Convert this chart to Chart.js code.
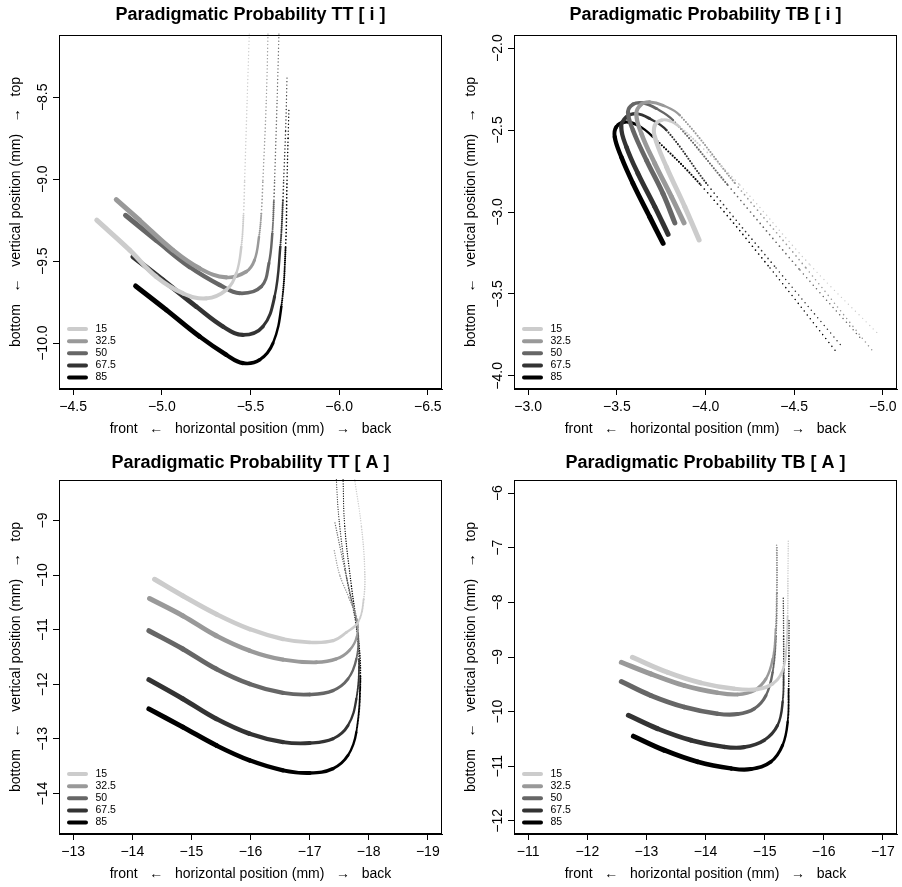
<!DOCTYPE html>
<html>
<head>
<meta charset="utf-8">
<script src="https://cdn.jsdelivr.net/npm/chart.js@4.4.1/dist/chart.umd.min.js"></script>
<style>
  html, body { margin: 0; padding: 0; background: #fff; overflow: hidden; }
  body { width: 902px; height: 887px; position: relative; }
  canvas { position: absolute; }
</style>
</head>
<body>
<canvas id="painel1" width="451" height="443" style="left:0;top:0"></canvas>
<canvas id="painel2" width="451" height="443" style="left:455px;top:0"></canvas>
<canvas id="painel3" width="451" height="443" style="left:0;top:445px"></canvas>
<canvas id="painel4" width="451" height="443" style="left:455px;top:445px"></canvas>
<script>
const categorias = ['15', '32.5', '50', '67.5', '85'];
const cores = ['#cccccc', '#999999', '#666666', '#333333', '#000000'];

// trajetorias [x, y] em mm, uma por categoria, do inicio (grosso) ao fim (pontilhado)
const trajTTi = [
  [[-4.633,-9.250],[-4.818,-9.432],[-4.968,-9.595],[-5.119,-9.696],[-5.251,-9.727],[-5.363,-9.676],[-5.420,-9.574],[-5.448,-9.412],[-5.461,-9.209],[-5.467,-9.007],[-5.481,-8.520],[-5.495,-8.050]],
  [[-4.743,-9.124],[-4.874,-9.250],[-5.062,-9.432],[-5.213,-9.544],[-5.363,-9.599],[-5.476,-9.564],[-5.523,-9.493],[-5.548,-9.351],[-5.561,-9.209],[-5.570,-9.007],[-5.589,-8.520],[-5.600,-8.050]],
  [[-4.795,-9.220],[-4.968,-9.372],[-5.156,-9.534],[-5.326,-9.645],[-5.440,-9.696],[-5.561,-9.655],[-5.604,-9.513],[-5.623,-9.331],[-5.632,-9.128],[-5.636,-9.007],[-5.650,-8.520],[-5.662,-8.050]],
  [[-4.837,-9.473],[-5.006,-9.615],[-5.194,-9.777],[-5.345,-9.899],[-5.457,-9.950],[-5.570,-9.899],[-5.636,-9.716],[-5.668,-9.412],[-5.683,-9.128],[-5.687,-9.007],[-5.698,-8.703],[-5.706,-8.378]],
  [[-4.852,-9.651],[-5.025,-9.797],[-5.213,-9.960],[-5.363,-10.071],[-5.457,-10.122],[-5.552,-10.102],[-5.627,-10.000],[-5.674,-9.777],[-5.698,-9.412],[-5.706,-9.007],[-5.712,-8.750],[-5.717,-8.561]]
];
const trajTBi = [
  [[-3.964,-3.171],[-3.883,-2.968],[-3.780,-2.725],[-3.714,-2.542],[-3.714,-2.471],[-3.751,-2.440],[-3.798,-2.444],[-3.855,-2.481],[-3.968,-2.593],[-4.194,-2.836],[-4.590,-3.323],[-4.985,-3.756]],
  [[-3.879,-3.066],[-3.808,-2.907],[-3.714,-2.704],[-3.638,-2.521],[-3.610,-2.400],[-3.638,-2.343],[-3.685,-2.329],[-3.760,-2.349],[-3.855,-2.410],[-4.166,-2.824],[-4.567,-3.342],[-4.946,-3.853]],
  [[-3.827,-3.066],[-3.760,-2.887],[-3.667,-2.684],[-3.591,-2.501],[-3.563,-2.390],[-3.591,-2.343],[-3.647,-2.335],[-3.723,-2.369],[-3.817,-2.440],[-4.126,-2.836],[-4.533,-3.354],[-4.884,-3.781]],
  [[-3.789,-3.136],[-3.714,-2.968],[-3.619,-2.765],[-3.554,-2.603],[-3.525,-2.481],[-3.554,-2.420],[-3.610,-2.400],[-3.685,-2.430],[-3.780,-2.501],[-4.013,-2.836],[-4.398,-3.342],[-4.776,-3.829]],
  [[-3.761,-3.191],[-3.685,-3.029],[-3.591,-2.826],[-3.525,-2.664],[-3.488,-2.542],[-3.497,-2.481],[-3.544,-2.451],[-3.619,-2.471],[-3.704,-2.542],[-3.974,-2.836],[-4.364,-3.342],[-4.742,-3.860]]
];
const trajTTA = [
  [[-14.377,-10.077],[-14.857,-10.381],[-15.421,-10.715],[-15.985,-10.989],[-16.550,-11.172],[-17.001,-11.232],[-17.396,-11.202],[-17.622,-11.050],[-17.819,-10.867],[-17.915,-10.442],[-17.932,-9.894],[-17.876,-9.103],[-17.763,-8.252],[-17.735,-8.009]],
  [[-14.292,-10.429],[-14.857,-10.746],[-15.421,-11.111],[-15.985,-11.384],[-16.550,-11.549],[-17.114,-11.597],[-17.453,-11.536],[-17.680,-11.370],[-17.800,-11.120],[-17.800,-10.800],[-17.660,-10.400],[-17.510,-10.000],[-17.413,-9.535]],
  [[-14.281,-11.019],[-14.857,-11.354],[-15.421,-11.719],[-15.985,-11.993],[-16.550,-12.157],[-17.001,-12.187],[-17.396,-12.114],[-17.650,-11.901],[-17.791,-11.536],[-17.819,-11.050],[-17.746,-10.624],[-17.594,-9.894],[-17.424,-9.018]],
  [[-14.281,-11.914],[-14.857,-12.266],[-15.421,-12.631],[-15.985,-12.905],[-16.550,-13.057],[-17.001,-13.075],[-17.396,-12.996],[-17.650,-12.753],[-17.791,-12.266],[-17.836,-11.536],[-17.780,-10.867],[-17.622,-10.016],[-17.498,-8.982],[-17.453,-8.252],[-17.450,-8.000]],
  [[-14.281,-12.449],[-14.857,-12.783],[-15.421,-13.118],[-15.985,-13.392],[-16.550,-13.574],[-17.001,-13.623],[-17.396,-13.544],[-17.650,-13.300],[-17.791,-12.875],[-17.859,-11.841],[-17.819,-11.111],[-17.707,-10.198],[-17.594,-9.103],[-17.566,-8.252],[-17.560,-8.000]]
];
const trajTBA = [
  [[-12.763,-9.005],[-13.356,-9.279],[-13.921,-9.473],[-14.486,-9.582],[-14.881,-9.590],[-15.136,-9.491],[-15.294,-9.279],[-15.362,-8.914],[-15.390,-8.247],[-15.395,-7.518],[-15.401,-6.856]],
  [[-12.576,-9.097],[-13.073,-9.309],[-13.638,-9.522],[-14.203,-9.655],[-14.542,-9.686],[-14.825,-9.613],[-15.023,-9.400],[-15.136,-9.036],[-15.186,-8.489],[-15.203,-7.822],[-15.203,-6.917]],
  [[-12.576,-9.449],[-13.073,-9.704],[-13.638,-9.916],[-14.203,-10.038],[-14.542,-10.045],[-14.825,-9.947],[-15.023,-9.704],[-15.136,-9.279],[-15.192,-8.611],[-15.209,-7.822],[-15.209,-6.971]],
  [[-12.695,-10.068],[-13.186,-10.311],[-13.751,-10.523],[-14.316,-10.645],[-14.655,-10.650],[-14.994,-10.523],[-15.220,-10.250],[-15.305,-9.825],[-15.322,-9.218],[-15.322,-8.611],[-15.316,-7.919]],
  [[-12.780,-10.450],[-13.299,-10.705],[-13.864,-10.918],[-14.429,-11.039],[-14.768,-11.052],[-15.107,-10.918],[-15.305,-10.614],[-15.390,-10.190],[-15.407,-9.582],[-15.412,-8.975],[-15.412,-8.313]]
];

const ticksXTTi = [-4.5, -5, -5.5, -6, -6.5];
const ticksYTTi = [-8.5, -9, -9.5, -10];
const ticksXTBi = [-3, -3.5, -4, -4.5, -5];
const ticksYTBi = [-2, -2.5, -3, -3.5, -4];
const ticksXTTA = [-13, -14, -15, -16, -17, -18, -19];
const ticksYTTA = [-9, -10, -11, -12, -13, -14];
const ticksXTBA = [-11, -12, -13, -14, -15, -16, -17];
const ticksYTBA = [-6, -7, -8, -9, -10, -11, -12];

const tituloX = 'front   \u2190   horizontal position (mm)   \u2192   back';
const tituloY = 'bottom   \u2190   vertical position (mm)   \u2192   top';

const FONTE = "'Liberation Sans', Arial, Helvetica, sans-serif";
Chart.defaults.font.family = FONTE;
Chart.defaults.color = '#000';

function rotulo(v, casas) {
  return (v < 0 ? '\u2212' : '') + Math.abs(v).toFixed(casas);
}

function indiceExtremo(pts, tipo) {
  let k = 0;
  pts.forEach((p, i) => {
    if (tipo === 'min' ? p[1] < pts[k][1] : p[1] > pts[k][1]) k = i;
  });
  return k;
}

const medidor = document.createElement('canvas').getContext('2d');
function larguraMaior(textos, tamanho) {
  medidor.font = tamanho + 'px ' + FONTE;
  return Math.max(...textos.map(t => medidor.measureText(t).width));
}

// caixa em volta da area do grafico, como o box() do R
const moldura = {
  id: 'moldura',
  afterDraw(chart) {
    const { ctx, chartArea: a } = chart;
    ctx.save();
    ctx.strokeStyle = '#000';
    ctx.lineWidth = 1;
    const l = Math.round(a.left) + 0.5, t = Math.round(a.top) + 0.5;
    const r = Math.round(a.right) - 0.5, b = Math.round(a.bottom) - 0.5;
    ctx.strokeRect(l, t, r - l, b - t);
    ctx.restore();
  }
};

// legenda no canto inferior esquerdo, dentro da area
const legendaR = {
  id: 'legendaR',
  afterDatasetsDraw(chart) {
    const { ctx, chartArea: a } = chart;
    const dss = chart.data.datasets;
    ctx.save();
    ctx.lineCap = 'round';
    ctx.lineWidth = 4;
    ctx.font = '10.5px ' + FONTE;
    ctx.textBaseline = 'middle';
    ctx.fillStyle = '#000';
    dss.forEach((ds, k) => {
      const y = a.bottom - 11.5 - (dss.length - 1 - k) * 12.1;
      ctx.strokeStyle = ds.borderColor;
      ctx.beginPath();
      ctx.moveTo(a.left + 10, y);
      ctx.lineTo(a.left + 27, y);
      ctx.stroke();
      ctx.fillText(ds.label, a.left + 36.5, y);
    });
    ctx.restore();
  }
};

function criarPainel(id, titulo, trajetorias, limX, limY, ticksX, ticksY, casas, estilo) {
  const rotulosY = ticksY.map(v => rotulo(v, casas));
  const padY = 15.5 - 6 - larguraMaior(rotulosY, 14) / 2;

  const datasets = trajetorias.map((pts, k) => {
    const inicioPontos = indiceExtremo(pts, estilo.extremo) + estilo.atraso;
    return {
      label: categorias[k],
      data: pts.map(p => ({ x: p[0], y: p[1] })),
      borderColor: cores[k],
      borderWidth: 3,
      borderCapStyle: 'round',
      borderJoinStyle: 'round',
      pointRadius: 0,
      tension: 0.4,
      clip: 2,
      segment: {
        // grosso no inicio, afinando; depois pontos cada vez menores
        borderWidth: ctx => {
          const i = ctx.p0DataIndex;
          if (i === inicioPontos) return 2.1;
          if (i > inicioPontos) return Math.max(1.2, 1.7 - 0.15 * (i - inicioPontos - 1));
          return 5 - 3.2 * Math.pow(i / inicioPontos, 1.5);
        },
        borderDash: ctx => {
          const i = ctx.p0DataIndex;
          if (i === inicioPontos) return [0, estilo.gap * 0.6];
          return i > inicioPontos ? [0, estilo.gap] : [];
        }
      }
    };
  });

  const grade = { drawOnChartArea: false, drawTicks: true, tickLength: 6, color: '#000', tickColor: '#000' };
  const borda = { display: true, color: '#000', width: 1 };

  return new Chart(document.getElementById(id), {
    type: 'line',
    data: { datasets },
    options: {
      responsive: false,
      animation: false,
      events: [],
      layout: { padding: { left: 0, right: 9, top: 0, bottom: 0 }, autoPadding: false },
      plugins: {
        legend: { display: false },
        tooltip: { enabled: false },
        title: {
          display: true,
          text: titulo,
          fullSize: false,
          color: '#000',
          font: { size: 18, weight: 'bold' },
          padding: { top: estilo.topoTitulo, bottom: 13.4 - estilo.topoTitulo }
        }
      },
      scales: {
        x: {
          type: 'linear',
          reverse: true,
          min: limX[0],
          max: limX[1],
          afterBuildTicks: s => { s.ticks = ticksX.map(v => ({ value: v })); },
          afterFit: s => { s.height = 54; s.paddingLeft = 0; s.paddingRight = 0; },
          grid: grade,
          border: borda,
          ticks: {
            autoSkip: false, maxRotation: 0, minRotation: 0, padding: 4,
            color: '#000', font: { size: 14 },
            callback: v => rotulo(v, casas)
          },
          title: { display: true, text: tituloX, color: '#000', font: { size: 14 }, padding: { top: 0, bottom: 5.2 } }
        },
        y: {
          type: 'linear',
          min: limY[0],
          max: limY[1],
          afterBuildTicks: s => { s.ticks = ticksY.map(v => ({ value: v })); },
          afterFit: s => { s.width = 59; s.paddingTop = 0; s.paddingBottom = 0; },
          grid: grade,
          border: borda,
          ticks: {
            autoSkip: false, minRotation: 90, maxRotation: 90, crossAlign: 'center', padding: padY,
            color: '#000', font: { size: 14 },
            callback: v => rotulo(v, casas)
          },
          title: { display: true, text: tituloY, color: '#000', font: { size: 14 }, padding: { top: 7.6, bottom: 0 } }
        }
      }
    },
    plugins: [moldura, legendaR]
  });
}

criarPainel('painel1', 'Paradigmatic Probability TT [ i ]', trajTTi, [-6.58, -4.42], [-10.28, -8.12],
  ticksXTTi, ticksYTTi, 1, { extremo: 'min', atraso: 3, gap: 3.5, topoTitulo: 4.6 });
criarPainel('painel2', 'Paradigmatic Probability TB [ i ]', trajTBi, [-5.08, -2.92], [-4.08, -1.92],
  ticksXTBi, ticksYTBi, 1, { extremo: 'max', atraso: 2, gap: 5, topoTitulo: 4.6 });
criarPainel('painel3', 'Paradigmatic Probability TT [ A ]', trajTTA, [-19.24, -12.76], [-14.74, -8.26],
  ticksXTTA, ticksYTTA, 0, { extremo: 'min', atraso: 3, gap: 2.5, topoTitulo: 6.9 });
criarPainel('painel4', 'Paradigmatic Probability TB [ A ]', trajTBA, [-17.24, -10.76], [-12.24, -5.76],
  ticksXTBA, ticksYTBA, 0, { extremo: 'min', atraso: 3, gap: 2.5, topoTitulo: 6.9 });
</script>
</body>
</html>
